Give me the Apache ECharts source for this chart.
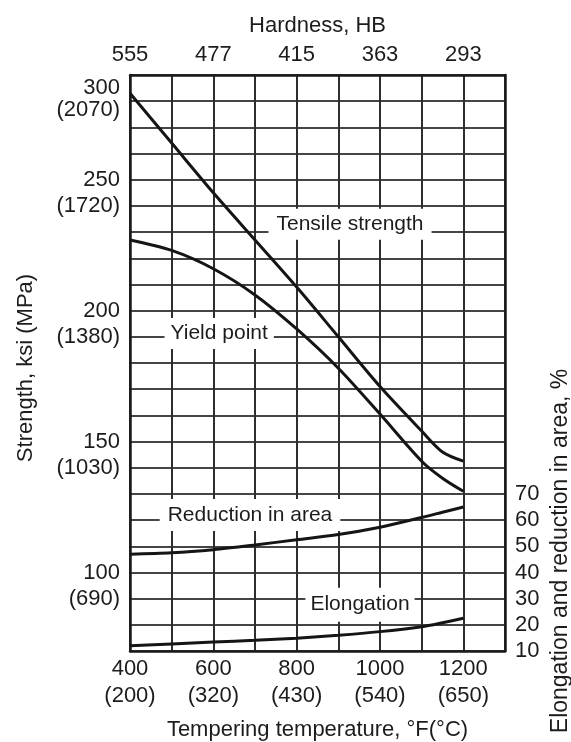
<!DOCTYPE html>
<html>
<head>
<meta charset="utf-8">
<script src="https://cdn.jsdelivr.net/npm/echarts@6/dist/echarts.min.js"></script>
<style>
  html, body { margin: 0; padding: 0; background: #ffffff; }
  #chart { width: 571px; height: 742px; }
</style>
</head>
<body>
<div id="chart"></div>
<script>
// Tempering temperature, °F (common x values for every curve)
const temperaturesF = [400, 500, 600, 700, 800, 900, 1000, 1100, 1150, 1200];

// Strength curves, ksi
const tensileStrength = [283, 264, 245, 227, 209, 190, 171, 154, 146, 142.5];
const yieldPoint      = [227, 223, 216, 206, 193, 178, 160.5, 142.5, 136, 131];

// Ductility curves, %
const reductionInArea = [47, 47.5, 48.7, 50.5, 52.5, 54.5, 57.3, 61, 63, 65];
const elongation      = [12, 12.7, 13.4, 14.1, 14.9, 16, 17.4, 19.3, 20.8, 22.5];

// Tick labels
const fahrenheitTicks = [400, 600, 800, 1000, 1200];
const celsiusTicks    = [200, 320, 430, 540, 650];
const hardnessTicks   = [555, 477, 415, 363, 293];
const ksiTicks        = [300, 250, 200, 150, 100];
const mpaTicks        = [2070, 1720, 1380, 1030, 690];
const percentTicks    = [10, 20, 30, 40, 50, 60, 70];

const KSI_MIN = 70, KSI_MAX = 290;
const PCT_MIN = 10, PCT_MAX = 230;
const FONT = "'Liberation Sans', Arial, Helvetica, sans-serif";
const INK = '#1c1c1c';

// Left axis: ksi value on its grid line, MPa equivalent on the line below.
// A value beyond the top of the scale is stacked with its MPa value just
// under the top line.
const leftLabels = {};
ksiTicks.forEach((k, i) => {
  if (k > KSI_MAX) {
    leftLabels[KSI_MAX - 10] = '{s1|' + k + '}\n{s2|(' + mpaTicks[i] + ')}';
  } else {
    leftLabels[k] = '{n|' + k + '}';
    leftLabels[k - 10] = '{n|(' + mpaTicks[i] + ')}';
  }
});

const bottomLabels = {};
fahrenheitTicks.forEach((f, i) => { bottomLabels[f] = f + '\n(' + celsiusTicks[i] + ')'; });

const topLabels = {};
fahrenheitTicks.forEach((f, i) => { topLabels[f] = String(hardnessTicks[i]); });

const rightLabels = {};
percentTicks.forEach(p => { rightLabels[p] = String(p); });

const tickText = { fontFamily: FONT, fontSize: 22, color: INK };
const richBase = { fontFamily: FONT, fontSize: 22, color: INK };
const border = { show: true, onZero: false, lineStyle: { color: '#1a1a1a', width: 2.5 } };

function curve(name, data, yAxisIndex, label) {
  return {
    name: name,
    type: 'line',
    xAxisIndex: 0,
    yAxisIndex: yAxisIndex,
    data: temperaturesF.map((t, i) => [t, data[i]]),
    smooth: 0.3,
    showSymbol: false,
    silent: true,
    lineStyle: { color: '#151515', width: 3 },
    markPoint: {
      symbol: 'circle',
      symbolSize: 1,
      itemStyle: { color: 'rgba(0,0,0,0)' },
      silent: true,
      label: {
        show: true,
        position: 'inside',
        formatter: label.text,
        fontFamily: FONT,
        fontSize: 21,
        lineHeight: 22,
        color: INK,
        backgroundColor: '#ffffff',
        padding: label.padding
      },
      data: [{ coord: label.at }]
    }
  };
}

const chart = echarts.init(document.getElementById('chart'), null, { renderer: 'canvas' });

chart.setOption({
  animation: false,
  backgroundColor: '#ffffff',
  grid: { left: 130, top: 75, width: 375, height: 576, outerBoundsMode: 'none' },
  // Title of the right-hand percentage scale, set beside its labels
  graphic: [{
    type: 'text',
    x: 561, y: 551,
    rotation: Math.PI / 2,
    silent: true,
    style: {
      text: 'Elongation and reduction in area, %',
      fontFamily: FONT, fontSize: 23, fill: INK,
      align: 'center', verticalAlign: 'middle'
    }
  }],
  xAxis: [
    {
      type: 'value', position: 'bottom', min: 400, max: 1300, interval: 100,
      axisLine: border, axisTick: { show: false },
      splitLine: { show: true, lineStyle: { color: '#2e2e2e', width: 2 } },
      axisLabel: Object.assign({}, tickText, {
        margin: 4, lineHeight: 27.5,
        formatter: v => bottomLabels[Math.round(v)] || ''
      }),
      name: 'Tempering temperature, °F(°C)',
      nameLocation: 'middle', nameGap: 67,
      nameTextStyle: { fontFamily: FONT, fontSize: 22, color: INK, lineHeight: 24 }
    },
    {
      type: 'value', position: 'top', min: 400, max: 1300, interval: 100,
      axisLine: border, axisTick: { show: false }, splitLine: { show: false },
      axisLabel: Object.assign({}, tickText, {
        margin: 8, lineHeight: 24,
        formatter: v => topLabels[Math.round(v)] || ''
      }),
      name: 'Hardness, HB',
      nameLocation: 'middle', nameGap: 31,
      nameTextStyle: { fontFamily: FONT, fontSize: 22, color: INK, lineHeight: 24 }
    }
  ],
  yAxis: [
    {
      type: 'value', position: 'left', min: KSI_MIN, max: KSI_MAX, interval: 10,
      axisLine: border, axisTick: { show: false },
      splitLine: { show: true, lineStyle: { color: '#454545', width: 2.2 } },
      axisLabel: Object.assign({}, tickText, {
        margin: 10,
        formatter: v => leftLabels[Math.round(v)] || '',
        rich: {
          n: Object.assign({ lineHeight: 24 }, richBase),
          s1: Object.assign({ lineHeight: 26 }, richBase),
          s2: Object.assign({ lineHeight: 26, padding: [0, 0, 8, 0] }, richBase)
        }
      }),
      name: 'Strength, ksi (MPa)',
      nameLocation: 'middle', nameGap: 92,
      nameTextStyle: { fontFamily: FONT, fontSize: 22, color: INK, lineHeight: 24, padding: [0, 10, 0, 0] }
    },
    {
      type: 'value', position: 'right', min: PCT_MIN, max: PCT_MAX, interval: 10,
      axisLine: border, axisTick: { show: false }, splitLine: { show: false },
      axisLabel: Object.assign({}, tickText, {
        margin: 10, lineHeight: 24,
        formatter: v => rightLabels[Math.round(v)] || ''
      })
    }
  ],
  series: [
    curve('Tensile strength', tensileStrength, 0,
      { text: 'Tensile strength', at: [928, 233], padding: [5, 8, 4, 8] }),
    curve('Yield point', yieldPoint, 0,
      { text: 'Yield point', at: [614, 191.3], padding: [5, 6, 4, 6] }),
    curve('Reduction in area', reductionInArea, 1,
      { text: 'Reduction in area', at: [688, 61.9], padding: [6, 8, 4, 8] }),
    curve('Elongation', elongation, 1,
      { text: 'Elongation', at: [952, 27.7], padding: [6, 5, 6, 5] })
  ]
});
</script>
</body>
</html>
